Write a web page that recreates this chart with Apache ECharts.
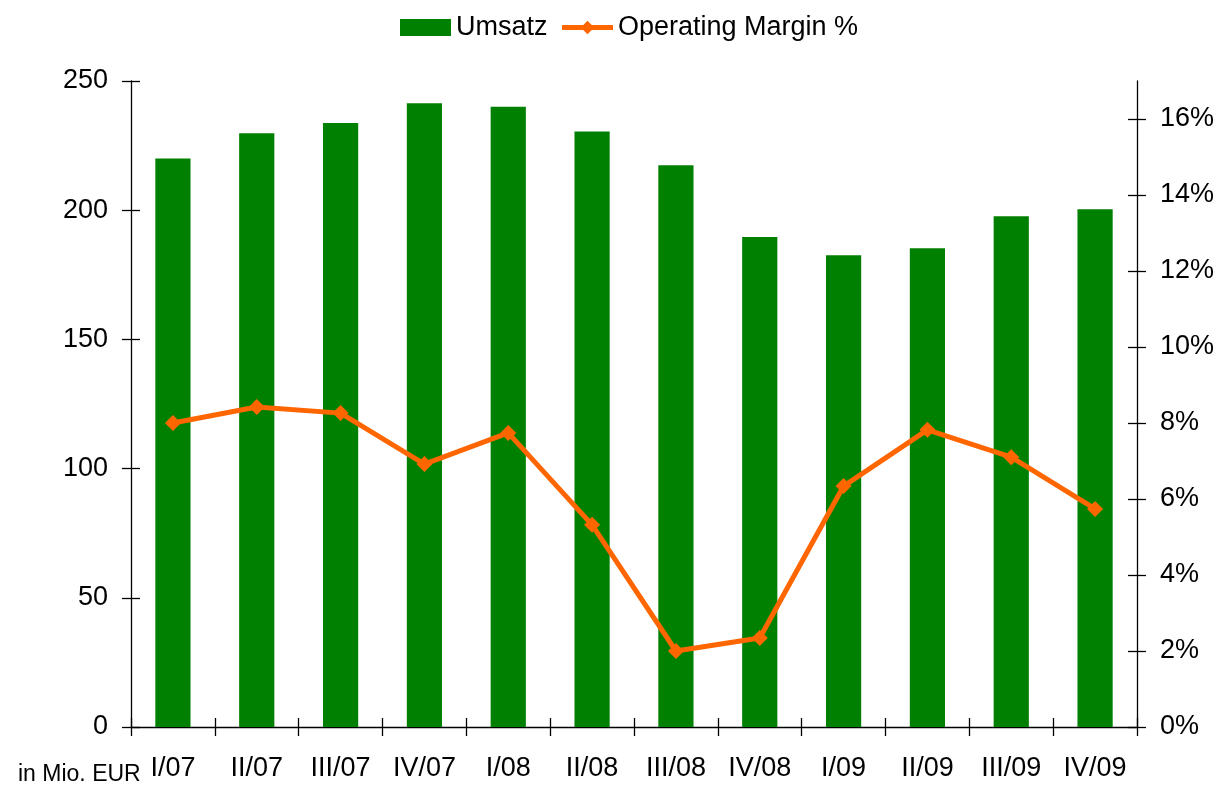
<!DOCTYPE html>
<html>
<head>
<meta charset="utf-8">
<script src="https://cdn.jsdelivr.net/npm/echarts@6/dist/echarts.min.js"></script>
<style>
html,body{margin:0;padding:0;background:#fff;}
#EchartBox{width:1221px;height:791px;}
</style>
</head>
<body>
<div id="EchartBox"></div>
<script>
// Quartale
var categories = ['I/07','II/07','III/07','IV/07','I/08','II/08','III/08','IV/08','I/09','II/09','III/09','IV/09'];
// Umsatz in Mio. EUR
var umsatz = [220, 229.8, 233.7, 241.4, 240, 230.5, 217.4, 189.6, 182.6, 185.3, 197.7, 200.4];
// Operating Margin in %
var margin = [8.0, 8.42, 8.26, 6.92, 7.74, 5.32, 2.0, 2.34, 6.34, 7.82, 7.1, 5.74];
// Achsen
var leftTicks = [0, 50, 100, 150, 200, 250];
var rightTicks = [0, 2, 4, 6, 8, 10, 12, 14, 16];
var leftMax = 250, rightMax = 17;

var fnt = 'Liberation Sans, Arial, sans-serif';
var axisLineStyle = {color:'#000', width:1.3};

// gridIndex 0: sichtbare Achsen, gridIndex 1: nur Innen-Ticks (Ticks kreuzen die Achse)
function yAx(g, pos, max, ticks, fmt, inside) {
	return {
		type:'value', gridIndex:g, position:pos, min:0, max:max,
		axisLine:{show:!inside, lineStyle:axisLineStyle},
		axisTick:{show:true, inside:inside, length:9, customValues:ticks, lineStyle:axisLineStyle},
		splitLine:{show:false},
		axisLabel:{show:!inside, margin:23, fontSize:27, color:'#000', fontFamily:fnt, formatter:fmt, customValues:ticks}
	};
}
function xAx(g, inside) {
	return {
		type:'category', gridIndex:g, data:categories,
		axisLine:{show:!inside, lineStyle:axisLineStyle},
		axisTick:{show:true, inside:inside, length:9, lineStyle:axisLineStyle},
		axisLabel:{show:!inside, margin:28, fontSize:27, color:'#000', fontFamily:fnt}
	};
}

var myChart = echarts.init(document.getElementById('EchartBox'));
var option = {
	backgroundColor:'#fff',
	animation:false,
	legend:{
		top:9, left:395, itemWidth:51, itemHeight:17, itemGap:12,
		textStyle:{fontSize:27, color:'#000', fontFamily:fnt},
		data:[
			{name:'Umsatz', icon:'rect'},
			{name:'Operating Margin %', lineStyle:{width:5}}
		]
	},
	graphic:[{type:'text', left:18, top:763, style:{text:'in Mio. EUR', fontSize:23, fill:'#000', fontFamily:fnt}}],
	grid:[
		{left:131, right:84, top:81, bottom:64},
		{left:131, right:84, top:81, bottom:64}
	],
	xAxis:[xAx(0, false), xAx(1, true)],
	yAxis:[
		yAx(0, 'left', leftMax, leftTicks, '{value}', false),
		yAx(0, 'right', rightMax, rightTicks, '{value}%', false),
		yAx(1, 'left', leftMax, leftTicks, '{value}', true),
		yAx(1, 'right', rightMax, rightTicks, '{value}%', true)
	],
	series:[{
		name:'Umsatz', type:'bar', data:umsatz, barWidth:'42%',
		itemStyle:{color:'#008000'}
	},{
		name:'Operating Margin %', type:'line', yAxisIndex:1, data:margin,
		symbol:'diamond', symbolSize:16, showSymbol:true,
		lineStyle:{color:'#FF6600', width:5},
		itemStyle:{color:'#FF6600'}
	}]
};
myChart.setOption(option);
</script>
</body>
</html>
